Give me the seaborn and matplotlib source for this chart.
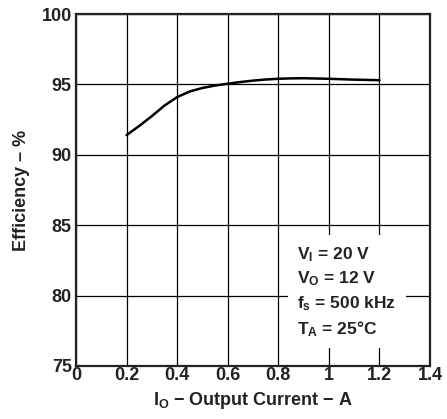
import matplotlib
matplotlib.use("Agg")
import matplotlib.pyplot as plt
import seaborn as sns
import pandas as pd

# efficiency curve
current = [0.2, 0.25, 0.3, 0.35, 0.4, 0.45, 0.5, 0.55, 0.6, 0.65, 0.7, 0.75, 0.8,
           0.85, 0.9, 0.95, 1.0, 1.05, 1.1, 1.15, 1.2]
efficiency = [91.4, 92.05, 92.75, 93.5, 94.1, 94.5, 94.75, 94.92, 95.05, 95.17, 95.27, 95.35, 95.4,
              95.43, 95.44, 95.42, 95.4, 95.37, 95.34, 95.32, 95.3]

x_ticks = [0, 0.2, 0.4, 0.6, 0.8, 1, 1.2, 1.4]
x_tick_labels = ["0", "0.2", "0.4", "0.6", "0.8", "1", "1.2", "1.4"]
y_ticks = [75, 80, 85, 90, 95, 100]

conditions = [r"$\mathrm{V_I}$ = 20 V", r"$\mathrm{V_O}$ = 12 V",
              r"$\mathrm{f_s}$ = 500 kHz", r"$\mathrm{T_A}$ = 25°C"]

sns.set_style("white")
plt.rcParams["font.family"] = ["Liberation Sans", "DejaVu Sans"]
plt.rcParams["font.weight"] = "bold"
plt.rcParams["mathtext.fontset"] = "custom"
plt.rcParams["mathtext.rm"] = "Liberation Sans:bold"
plt.rcParams["mathtext.it"] = "Liberation Sans:bold"
plt.rcParams["mathtext.bf"] = "Liberation Sans:bold"

df = pd.DataFrame({"current": current, "efficiency": efficiency})

fig = plt.figure(figsize=(4.47, 4.19), dpi=100)
ax = fig.add_axes([0.170, 0.1265, 0.792, 0.840])

sns.lineplot(data=df, x="current", y="efficiency", ax=ax, color="black", linewidth=1.8, zorder=3)

ax.set_xlim(0, 1.4)
ax.set_ylim(75, 100)
ax.set_xticks(x_ticks)
ax.set_xticklabels(x_tick_labels)
ax.set_yticks(y_ticks)
ax.tick_params(axis="both", length=0, labelsize=13, colors="#222222")
ax.tick_params(axis="x", pad=1)
ax.tick_params(axis="y", pad=3)
for lab in ax.get_xticklabels() + ax.get_yticklabels():
    lab.set_fontweight("bold")

ax.grid(True, color="black", linewidth=0.9)
ax.set_axisbelow(True)
for sp in ax.spines.values():
    sp.set_color("#222222")
    sp.set_linewidth(1.6)

ax.set_xlabel(r"$\mathrm{I_O}$ − Output Current − A", fontsize=13, fontweight="bold", color="#222222", labelpad=4)
ax.set_ylabel("Efficiency – %", fontsize=13, fontweight="bold", color="#222222", labelpad=8)

ax.text(0.875, 83.6, "\n".join(conditions), fontsize=12.5, fontweight="bold", color="#222222",
        va="top", ha="left", linespacing=1.42, zorder=5,
        bbox=dict(boxstyle="square,pad=0.55", facecolor="white", edgecolor="none"))

fig.savefig("out.png", dpi=100)
